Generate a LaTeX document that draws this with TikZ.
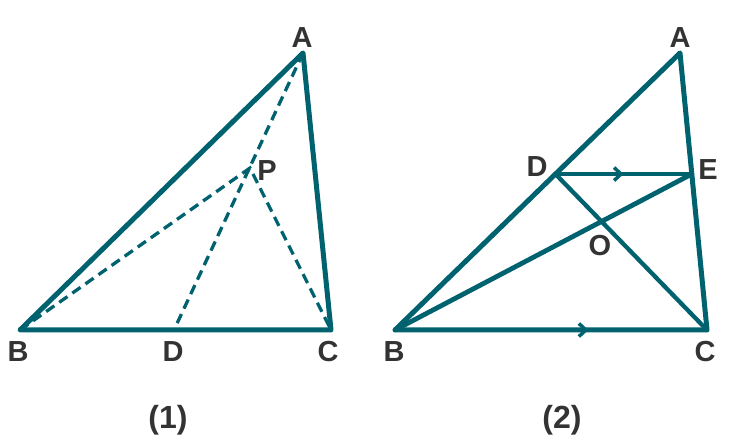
\documentclass[tikz,border=0pt]{standalone}
\usepackage{fontspec}
\setmainfont{Liberation Sans}
\usetikzlibrary{arrows.meta,decorations.markings,calc}
\definecolor{geoteal}{HTML}{00626F}
\definecolor{labelgrey}{HTML}{333333}

\tikzset{
	side/.style={draw=geoteal, line width=5pt, line join=round, line cap=round},
	cevian/.style={draw=geoteal, line width=3.3pt, dash pattern=on 10pt off 6pt},
	inner/.style={draw=geoteal, line width=4.3pt, line cap=round},
	midarrow/.style={postaction={decorate, decoration={markings,
		mark=at position #1 with {\arrow{Straight Barb[length=7pt,width=13pt,line width=3.5pt]}}}}},
	lbl/.style={text=labelgrey, font=\fontsize{29}{32}\selectfont\bfseries, inner sep=0pt},
	figcaption/.style={text=labelgrey, font=\fontsize{32}{36}\selectfont\bfseries, inner sep=0pt}
}

\begin{document}
\begin{tikzpicture}[x=1pt,y=-1pt]
		\useasboundingbox (0,0) rectangle (739,443);
		
		% figure (1)
		\coordinate (A1) at (303,53);
		\coordinate (B1) at (20,330);
		\coordinate (C1) at (331,330);
		\coordinate (D1) at (174,330);
		\coordinate (P1) at (250,168);
		\draw[cevian] (A1) -- (D1);
		\draw[cevian] (B1) -- (P1) -- (C1);
		\draw[side] (A1) -- (B1) -- (C1) -- cycle;
		\node[lbl] (a1) at (302,38) {A};
		\node[lbl] (p1) at (267,171) {P};
		\node[lbl] (b1) at (18,352) {B};
		\node[lbl] (d1) at (173,352) {D};
		\node[lbl] (c1) at (328,352) {C};
		\node[figcaption] (n1) at (168,420) {(1)};
		
		% figure (2)
		\coordinate (A2) at (680,53);
		\coordinate (B2) at (395,330);
		\coordinate (C2) at (707,330);
		\coordinate (D2) at ($(A2)!0.437!(B2)$);
		\coordinate (E2) at ($(A2)!0.437!(C2)$);
		\draw[side] (A2) -- (B2) -- (C2) -- cycle;
		\draw[inner, midarrow=0.62] (B2) -- (C2);
		\draw[inner, midarrow=0.5] (D2) -- (E2);
		\draw[inner] (D2) -- (C2);
		\draw[inner, line width=4.8pt] (B2) -- (E2);
		\node[lbl] (a2) at (680,38) {A};
		\node[lbl] (d2) at (537,167) {D};
		\node[lbl] (e2) at (708,170) {E};
		\node[lbl] (o2) at (600,246) {O};
		\node[lbl] (b2) at (394,352) {B};
		\node[lbl] (c2) at (705,352) {C};
		\node[figcaption] (n2) at (562,420) {(2)};
\end{tikzpicture}
\end{document}
